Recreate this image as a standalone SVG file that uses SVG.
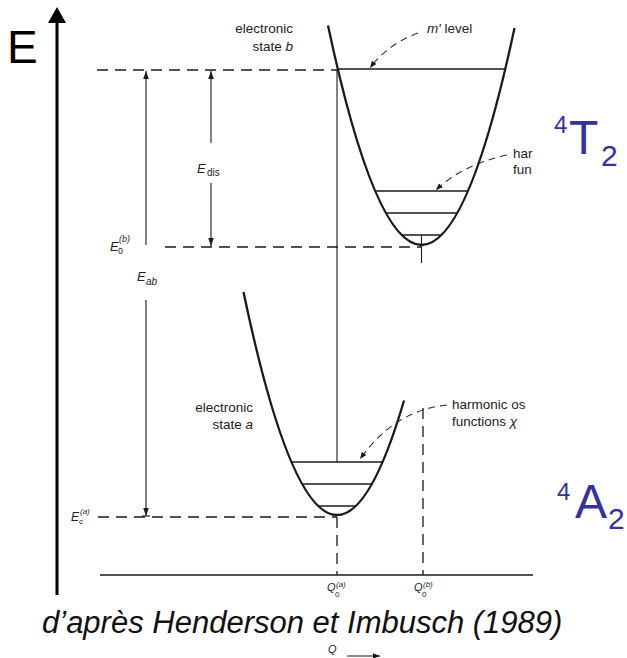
<svg xmlns="http://www.w3.org/2000/svg" width="627" height="658" viewBox="0 0 627 658">
<style>
.t{font-family:"Liberation Sans",Arial,sans-serif;fill:#222}
.i{font-style:italic}
.blue{font-family:"Liberation Sans",Arial,sans-serif;fill:#333399}
.curve{fill:none;stroke:#1a1a1a;stroke-width:2.3}
.lvl{stroke:#1a1a1a;stroke-width:1.3}
.dash{stroke:#1a1a1a;stroke-width:1.3;stroke-dasharray:11 7;fill:none}
.thin{stroke:#1a1a1a;stroke-width:1.1;fill:none}
.cdash{stroke:#333;stroke-width:1.1;stroke-dasharray:7 5;fill:none}
</style>
<defs>
<marker id="ah" viewBox="0 0 10 10" refX="10" refY="5" markerWidth="7" markerHeight="7" markerUnits="userSpaceOnUse" orient="auto">
<path d="M0,1 L10,5 L0,9 z" fill="#1a1a1a"/>
</marker>
<marker id="ahb" viewBox="0 0 10 10" refX="10" refY="5" markerWidth="8" markerHeight="8" markerUnits="userSpaceOnUse" orient="auto">
<path d="M0,1.5 L10,5 L0,8.5 z" fill="#1a1a1a"/>
</marker>
</defs>
<rect width="627" height="658" fill="#fff"/>

<g id="energy-axis">
<line x1="57" y1="21" x2="57" y2="595" stroke="#000" stroke-width="3"/>
<path d="M57,7 L48,23 L66,23 z" fill="#000"/>
<text class="t" x="7" y="63" font-size="46" style="fill:#000">E</text>
</g>

<g id="q-axis">
<line x1="100" y1="575" x2="533" y2="575" class="lvl"/>
<text class="t i" x="327" y="591" font-size="11">Q</text>
<text class="t i" x="336" y="587" font-size="8">(a)</text>
<text class="t" x="335" y="597" font-size="8">0</text>
<text class="t i" x="414" y="591" font-size="11">Q</text>
<text class="t i" x="423" y="587" font-size="8">(b)</text>
<text class="t" x="422" y="597" font-size="8">0</text>
<text class="t i" x="328" y="653" font-size="11">Q</text>
<line x1="347" y1="656" x2="380" y2="656" class="thin" marker-end="url(#ah)"/>
</g>

<g id="state-b">
<path class="curve" d="M328,25.6 Q374.75,245 421.5,245 Q468.25,245 514.5,28"/>
<line class="lvl" x1="338" y1="69" x2="505" y2="69"/>
<line class="lvl" x1="375" y1="191" x2="468" y2="191"/>
<line class="lvl" x1="386" y1="213" x2="457" y2="213"/>
<line class="lvl" x1="401.5" y1="235" x2="441.5" y2="235"/>
<line class="thin" x1="421.5" y1="235" x2="421.5" y2="263"/>
<text class="t" x="293" y="33" font-size="13.5" text-anchor="end">electronic</text>
<text class="t" x="293" y="51" font-size="13.5" text-anchor="end">state <tspan class="i">b</tspan></text>
<text class="t" x="427" y="33" font-size="13.5"><tspan class="i">m′</tspan>  level</text>
<text class="t" x="513" y="158" font-size="13.5">har</text>
<text class="t" x="513" y="174" font-size="13.5">fun</text>
</g>

<g id="state-a">
<path class="curve" d="M243.5,292 Q290.25,515 337,515 Q370.5,515 404,400.5"/>
<line class="lvl" x1="291.5" y1="462" x2="382.5" y2="462"/>
<line class="lvl" x1="302" y1="484" x2="372" y2="484"/>
<line class="lvl" x1="318" y1="506" x2="356" y2="506"/>
<text class="t" x="253" y="412" font-size="13.5" text-anchor="end">electronic</text>
<text class="t" x="253" y="429" font-size="13.5" text-anchor="end">state <tspan class="i">a</tspan></text>
<text class="t" x="452" y="409" font-size="13.5">harmonic os</text>
<text class="t" x="452" y="426" font-size="13.5">functions <tspan class="i">χ</tspan></text>
</g>

<g id="label-4T2">
<text class="blue" x="554" y="133" font-size="24">4</text>
<text class="blue" x="569" y="154" font-size="48">T</text>
<text class="blue" x="601" y="166" font-size="30">2</text>
</g>

<g id="label-4A2">
<text class="blue" x="557" y="500" font-size="24">4</text>
<text class="blue" x="575" y="518" font-size="48">A</text>
<text class="blue" x="608" y="529" font-size="30">2</text>
</g>

<g id="energy-labels">
<text class="t i" x="110" y="251" font-size="13">E</text>
<text class="t i" x="119" y="242" font-size="9">(b)</text>
<text class="t" x="118" y="254" font-size="9">0</text>
<text class="t i" x="137" y="281" font-size="13">E</text>
<text class="t i" x="146" y="285" font-size="10">ab</text>
<text class="t i" x="197" y="173" font-size="13">E</text>
<text class="t" x="207" y="176" font-size="10">dis</text>
<text class="t i" x="71" y="521" font-size="12">E</text>
<text class="t i" x="80" y="514" font-size="8">(a)</text>
<text class="t" x="79" y="524" font-size="8">c</text>
</g>

<g id="connectors">
<line class="dash" x1="97" y1="70" x2="338" y2="70"/>
<line class="dash" x1="165" y1="247" x2="421" y2="247"/>
<line class="dash" x1="98" y1="517" x2="337" y2="517"/>
<line class="thin" x1="337" y1="70" x2="337" y2="462"/>
<line class="dash" x1="337" y1="517" x2="337" y2="575"/>
<line class="dash" x1="423" y1="408" x2="423" y2="575"/>
<line class="thin" x1="146" y1="245" x2="146" y2="71" marker-end="url(#ahb)"/>
<line class="thin" x1="146" y1="300" x2="146" y2="516" marker-end="url(#ahb)"/>
<line class="thin" x1="142" y1="516" x2="150" y2="516"/>
<line class="thin" x1="211" y1="143" x2="211" y2="71" marker-end="url(#ahb)"/>
<line class="thin" x1="211" y1="183" x2="211" y2="246" marker-end="url(#ahb)"/>
<path class="cdash" d="M418,33 Q388,44 370,68" marker-end="url(#ah)"/>
<path class="cdash" d="M507,155 Q462,165 436,190" marker-end="url(#ah)"/>
<path class="cdash" d="M447,405 Q395,410 360,459" marker-end="url(#ah)"/>
</g>

<g id="caption">
<text class="t i" x="42" y="633" font-size="31" style="fill:#111">d’après Henderson et Imbusch (1989)</text>
</g>
</svg>
